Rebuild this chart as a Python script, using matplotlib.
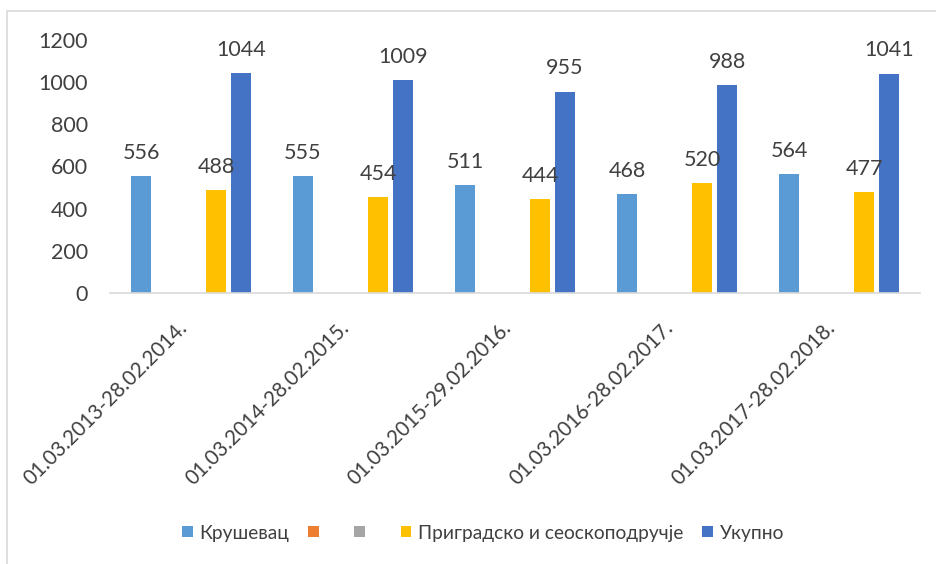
import numpy as np
import matplotlib
matplotlib.use("Agg")
import matplotlib.pyplot as plt
from matplotlib.patches import Patch, Rectangle

categories = ["01.03.2013-28.02.2014.", "01.03.2014-28.02.2015.", "01.03.2015-29.02.2016.",
              "01.03.2016-28.02.2017.", "01.03.2017-28.02.2018."]
series_names = ["Крушевац", "  ", "  ", "Приградско и сеоскоподручје", "Укупно"]
krusevac = [556, 555, 511, 468, 564]
empty_orange = [np.nan] * 5
empty_grey = [np.nan] * 5
prigradsko = [488, 454, 444, 520, 477]
ukupno = [1044, 1009, 955, 988, 1041]
yticks = [0, 200, 400, 600, 800, 1000, 1200]

colors = ["#5B9BD5", "#ED7D31", "#A5A5A5", "#FFC000", "#4472C4"]
series = [krusevac, empty_orange, empty_grey, prigradsko, ukupno]

plt.rcParams['font.family'] = ['Lato', 'DejaVu Sans']
txt = "#404040"

fig = plt.figure(figsize=(9.36, 5.64), dpi=100)
fig.patches.append(Rectangle((7/936, -0.1), 2, 1 - 11/564 + 0.1, transform=fig.transFigure,
                             fill=False, edgecolor="#D9D9D9", linewidth=1.2))
ax = fig.add_axes([110/936, 1 - 293/564, 810/936, 253/564])

x = np.arange(len(categories))
slot = 25/162
width = 19.5/162
handles = []
for i, (vals, c) in enumerate(zip(series, colors)):
    pos = x + (i - 2) * slot
    bars = ax.bar(pos, vals, width=width, color=c, edgecolor='none')
    handles.append(Patch(facecolor=c, edgecolor='none'))
    for p, v in zip(pos, vals):
        if not np.isnan(v):
            ax.annotate(f"{int(v)}", (p, v), xytext=(0, 9.5), textcoords="offset points",
                        ha='center', va='bottom', fontsize=15.5, color=txt)

ax.set_xlim(-0.5, len(categories) - 0.5)
ax.set_ylim(0, 1200)
ax.set_yticks(yticks)
ax.set_yticklabels([str(t) for t in yticks], fontsize=15.5, color=txt)
ax.set_xticks(x)
ax.set_xticklabels(categories, rotation=45, ha='right', va='top', rotation_mode='default',
                   fontsize=14.8, color=txt)
ax.tick_params(axis='y', length=0, pad=16)
ax.tick_params(axis='x', length=0, pad=18)
for s in ['top', 'right', 'left']:
    ax.spines[s].set_visible(False)
ax.spines['bottom'].set_color("#D9D9D9")
ax.spines['bottom'].set_linewidth(1.2)

fig.legend(handles, series_names, loc='center', bbox_to_anchor=(483/936, 1 - 533/564),
           ncol=5, frameon=False, fontsize=13.8, handlelength=0.55, handleheight=0.55,
           handletextpad=0.35, columnspacing=1.0, labelcolor=txt)

fig.savefig("out.png", dpi=100)
